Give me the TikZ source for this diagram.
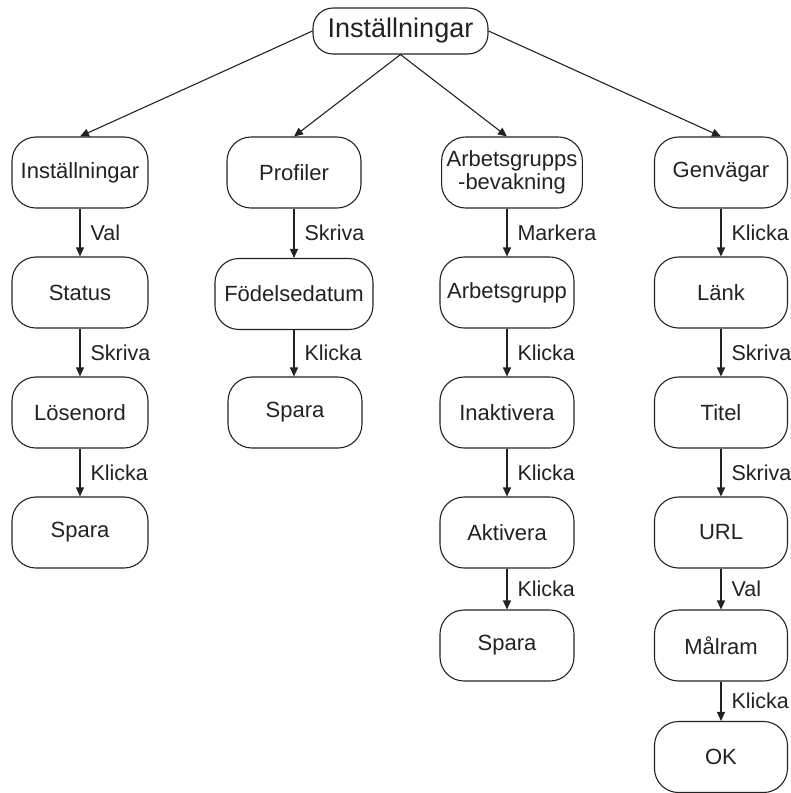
\documentclass[tikz,border=0pt]{standalone}
\usepackage{fontspec}
\setmainfont{Liberation Sans}
\usetikzlibrary{arrows.meta}
\definecolor{ink}{HTML}{222222}
\begin{document}
\begin{tikzpicture}[x=1pt,y=-1pt,
  stepbox/.style={draw=ink, line width=1.1pt, rounded corners=24pt,
    minimum height=71pt, minimum width=134pt, inner xsep=5pt,
    align=center, text=ink, font=\fontsize{22}{23}\selectfont},
  rootbox/.style={stepbox, minimum height=46pt, minimum width=175pt,
    rounded corners=20pt, font=\fontsize{27}{30}\selectfont},
  flow/.style={draw=ink, line width=1.1pt, -{Triangle[length=9pt,width=8pt]}},
  act/.style={anchor=west, text=ink, inner sep=0pt, xshift=10pt,
    font=\fontsize{21.5}{23}\selectfont}
]
\useasboundingbox (0,0) rectangle (791,793);

% root
\node[rootbox] (root) at (400.5,31) {Inställningar};

% column 1
\node[stepbox, minimum width=136pt] (a1) at (80,172.5) {Inställningar};
\node[stepbox, minimum width=136pt] (a2) at (80,292.5) {Status};
\node[stepbox, minimum width=136pt] (a3) at (80,412.5) {Lösenord};
\node[stepbox, minimum width=136pt] (a4) at (80,532.5) {Spara};

% column 2
\node[stepbox] (b1) at (294,172.5) {Profiler};
\node[stepbox, minimum width=158pt] (b2) at (294,294) {Födelsedatum};
\node[stepbox] (b3) at (295,412.5) {Spara};

% column 3
\node[stepbox, minimum width=140pt] (c1) at (512,172.5) {Arbetsgrupps\\-bevakning};
\node[stepbox] (c2) at (507,292.5) {Arbetsgrupp};
\node[stepbox] (c3) at (507,412.5) {Inaktivera};
\node[stepbox] (c4) at (507,532.5) {Aktivera};
\node[stepbox] (c5) at (507,645.5) {Spara};

% column 4
\node[stepbox, minimum width=133pt] (d1) at (721,172.5) {Genvägar};
\node[stepbox, minimum width=133pt] (d2) at (721,292.5) {Länk};
\node[stepbox, minimum width=133pt] (d3) at (721,412.5) {Titel};
\node[stepbox, minimum width=133pt] (d4) at (721,532.5) {URL};
\node[stepbox, minimum width=133pt] (d5) at (721,645.5) {Målram};
\node[stepbox, minimum width=133pt] (d6) at (721,757) {OK};

% branches from the root
\draw[flow] (root.west) -- (a1.north);
\draw[flow] (root.south) -- (b1.north);
\draw[flow] (root.south) -- (c2 |- c1.north);
\draw[flow] (root.east) -- (d1.north);

% column 1 steps
\draw[flow] (a1) -- node[act] {Val} (a2);
\draw[flow] (a2) -- node[act] {Skriva} (a3);
\draw[flow] (a3) -- node[act] {Klicka} (a4);

% column 2 steps
\draw[flow] (b1) -- node[act] {Skriva} (b1 |- b2.north);
\draw[flow] (b2.south -| b1) -- node[act] {Klicka} (b1 |- b3.north);

% column 3 steps
\draw[flow] (c1.south -| c2) -- node[act] {Markera} (c2);
\draw[flow] (c2) -- node[act] {Klicka} (c3);
\draw[flow] (c3) -- node[act] {Klicka} (c4);
\draw[flow] (c4) -- node[act] {Klicka} (c5);

% column 4 steps
\draw[flow] (d1) -- node[act] {Klicka} (d2);
\draw[flow] (d2) -- node[act] {Skriva} (d3);
\draw[flow] (d3) -- node[act] {Skriva} (d4);
\draw[flow] (d4) -- node[act] {Val} (d5);
\draw[flow] (d5) -- node[act] {Klicka} (d6);
\end{tikzpicture}
\end{document}
